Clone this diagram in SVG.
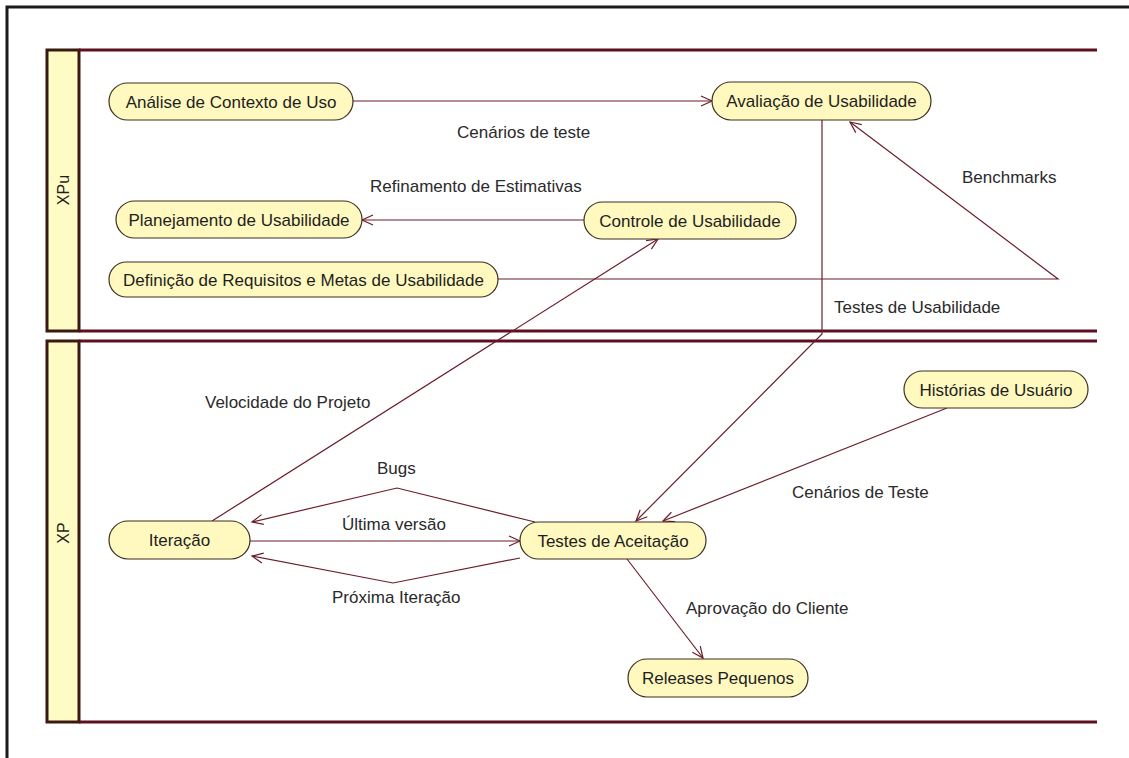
<svg xmlns="http://www.w3.org/2000/svg" width="1129" height="758" viewBox="0 0 1129 758">
<defs>
<marker id="arr" markerUnits="userSpaceOnUse" markerWidth="14" markerHeight="14" refX="12" refY="6" orient="auto">
<path d="M1,1 L12,6 L1,11" fill="none" stroke="#6b1e2a" stroke-width="1.2"/>
</marker>
</defs>
<style>
.frame{fill:none;stroke:#1a1a1a;stroke-width:3}
.lane{fill:none;stroke:#5e1020;stroke-width:3}
.lanecol{fill:#fffbc4;stroke:#3a1a10;stroke-width:3}
.node rect{fill:#fff9bf;stroke:#3c3020;stroke-width:1.2}
.node text{font-family:"Liberation Sans",Arial,sans-serif;font-size:17px;fill:#1e1e1e;text-anchor:middle}
.lbl{font-family:"Liberation Sans",Arial,sans-serif;font-size:17px;fill:#2a2a2a}
.lanelbl{font-family:"Liberation Sans",Arial,sans-serif;font-size:16px;fill:#1e1e1e;text-anchor:middle}
.edge{fill:none;stroke:#6b1e2a;stroke-width:1.2}
</style>
<rect width="1129" height="758" fill="#ffffff"/>
<g id="frame">
<path class="frame" d="M1129,7 H7 V758"/>
</g>
<g id="lane-xpu">
<rect class="lanecol" x="47" y="50" width="32" height="281"/>
<path class="lane" d="M79,50 H1097 M79,331 H1097"/>
<text class="lanelbl" transform="translate(69,190) rotate(-90)">XPu</text>
</g>
<g id="lane-xp">
<rect class="lanecol" x="47" y="341" width="32" height="381"/>
<path class="lane" d="M79,341 H1097 M79,722 H1097"/>
<text class="lanelbl" transform="translate(69,533) rotate(-90)">XP</text>
</g>
<g id="connectors">
<line class="edge" x1="353" y1="101" x2="712" y2="101" marker-end="url(#arr)"/>
<line class="edge" x1="584" y1="220" x2="362" y2="220" marker-end="url(#arr)"/>
<polyline class="edge" points="498,279 1058,279 850,122" marker-end="url(#arr)"/>
<polyline class="edge" points="822,120 822,334 636,521" marker-end="url(#arr)"/>
<line class="edge" x1="212" y1="521" x2="658" y2="239" marker-end="url(#arr)"/>
<polyline class="edge" points="535,522 397,488 252,522" marker-end="url(#arr)"/>
<line class="edge" x1="250" y1="541" x2="520" y2="541" marker-end="url(#arr)"/>
<polyline class="edge" points="520,558 393,583 252,556" marker-end="url(#arr)"/>
<line class="edge" x1="947" y1="408" x2="663" y2="521" marker-end="url(#arr)"/>
<line class="edge" x1="627" y1="559" x2="703" y2="658" marker-end="url(#arr)"/>
<text class="lbl" x="457" y="138">Cenários de teste</text>
<text class="lbl" x="370" y="192">Refinamento de Estimativas</text>
<text class="lbl" x="962" y="183">Benchmarks</text>
<text class="lbl" x="834" y="313">Testes de Usabilidade</text>
<text class="lbl" x="205" y="408">Velocidade do Projeto</text>
<text class="lbl" x="377" y="474">Bugs</text>
<text class="lbl" x="342" y="530">Última versão</text>
<text class="lbl" x="332" y="603">Próxima Iteração</text>
<text class="lbl" x="792" y="498">Cenários de Teste</text>
<text class="lbl" x="686" y="614">Aprovação do Cliente</text>
</g>
<g id="n-analise" class="node"><rect x="109" y="83" width="244" height="37" rx="18.5"/><text x="231" y="107.5">Análise de Contexto de Uso</text></g>
<g id="n-avaliacao" class="node"><rect x="712" y="82" width="219" height="38" rx="19"/><text x="821.5" y="107">Avaliação de Usabilidade</text></g>
<g id="n-planejamento" class="node"><rect x="116" y="201" width="246" height="37" rx="18.5"/><text x="239" y="225.5">Planejamento de Usabilidade</text></g>
<g id="n-controle" class="node"><rect x="584" y="202" width="212" height="37" rx="18.5"/><text x="690" y="226.5">Controle de Usabilidade</text></g>
<g id="n-definicao" class="node"><rect x="109" y="262" width="389" height="35" rx="17.5"/><text x="303.5" y="285.5">Definição de Requisitos e Metas de Usabilidade</text></g>
<g id="n-historias" class="node"><rect x="904" y="371" width="184" height="37" rx="18.5"/><text x="996" y="395.5">Histórias de Usuário</text></g>
<g id="n-iteracao" class="node"><rect x="109" y="521" width="141" height="38" rx="19"/><text x="179.5" y="546">Iteração</text></g>
<g id="n-testes" class="node"><rect x="520" y="522" width="186" height="37" rx="18.5"/><text x="613" y="546.5">Testes de Aceitação</text></g>
<g id="n-releases" class="node"><rect x="628" y="659" width="180" height="38" rx="19"/><text x="718" y="684">Releases Pequenos</text></g>
</svg>
